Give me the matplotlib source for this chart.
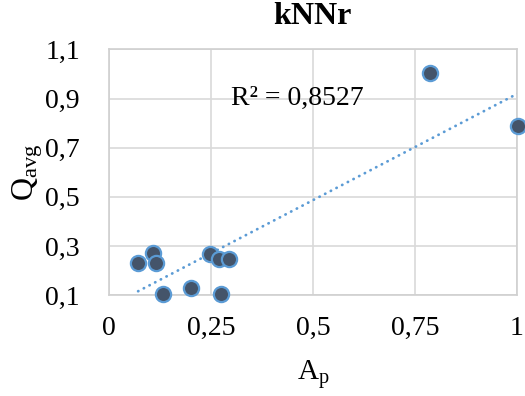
import numpy as np
import matplotlib
matplotlib.use("Agg")
import matplotlib.pyplot as plt

plt.rcParams['font.family'] = ['Liberation Serif', 'DejaVu Serif']
plt.rcParams['mathtext.fontset'] = 'custom'
plt.rcParams['mathtext.rm'] = 'Liberation Serif'
plt.rcParams['mathtext.it'] = 'Liberation Serif'

title = "kNNr"
ap = [0.071, 0.107, 0.115, 0.131, 0.201, 0.247, 0.269, 0.294, 0.274, 0.788, 1.003]
qavg = [0.230, 0.273, 0.230, 0.105, 0.130, 0.268, 0.248, 0.248, 0.105, 1.002, 0.788]
xticks = [0, 0.25, 0.5, 0.75, 1]
xticklabels = ["0", "0,25", "0,5", "0,75", "1"]
yticks = [0.1, 0.3, 0.5, 0.7, 0.9, 1.1]
yticklabels = ["0,1", "0,3", "0,5", "0,7", "0,9", "1,1"]
r2_text = "R² = 0,8527"

fig = plt.figure(figsize=(5.25, 3.96), dpi=100)
ax = fig.add_axes([0.208, 0.2543, 0.776, 0.6212])

x = np.array(ap)
y = np.array(qavg)
slope, intercept = np.polyfit(x, y, 1)
xs = np.linspace(x.min(), x.max(), 200)
ax.plot(xs, slope * xs + intercept, color='#5B9BD5', linewidth=2.0,
        linestyle=(0, (0.1, 2.2)), dash_capstyle='round', zorder=2)

ax.scatter(x, y, s=120, facecolor='#44546A', edgecolor='#5B9BD5',
           linewidth=1.6, zorder=3, clip_on=False)

ax.set_xlim(0, 1)
ax.set_ylim(0.1, 1.1)
ax.set_xticks(xticks)
ax.set_xticklabels(xticklabels)
ax.set_yticks(yticks)
ax.set_yticklabels(yticklabels)
ax.tick_params(axis='both', length=0, labelsize=20, colors='black')
ax.tick_params(axis='x', pad=15)
ax.tick_params(axis='y', pad=21)
ax.grid(True, color='#D9D9D9', linewidth=1.2)
ax.set_axisbelow(True)
for s in ax.spines.values():
    s.set_color('#D0D0D0')
    s.set_linewidth(1.2)

ax.text(0.299, 0.902, r2_text, fontsize=20, ha='left', va='center')

fig.text(0.596, 0.958, title, fontsize=23, fontweight='bold', ha='center', va='center')
ax.set_xlabel(r'A$_\mathregular{p}$', fontsize=21, labelpad=12)
ax.set_ylabel(r'Q$_\mathregular{avg}$', fontsize=23, labelpad=0)

fig.savefig("out.png", dpi=100)
